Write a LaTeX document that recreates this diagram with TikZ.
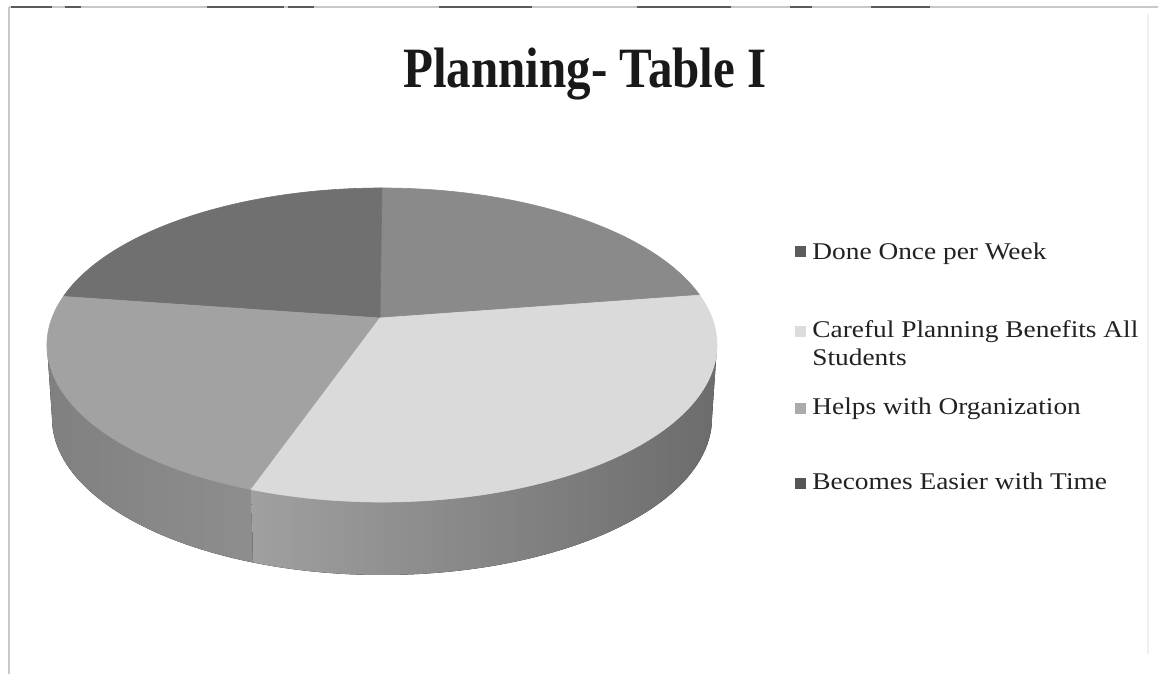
\documentclass[tikz,border=0pt]{standalone}
\usepackage{fontspec}
\setmainfont{Liberation Serif}
\newfontfamily\legfont[FakeStretch=1.14]{Liberation Serif}
\newfontfamily\titfont[FakeStretch=0.86]{Liberation Serif}
\usetikzlibrary{calc}
\definecolor{cBecomes}{HTML}{707070}
\definecolor{cDone}{HTML}{8A8A8A}
\definecolor{cHelps}{HTML}{A2A2A2}
\definecolor{cCareful}{HTML}{DADADA}
\definecolor{sHelpsL}{HTML}{808080}
\definecolor{sHelpsR}{HTML}{8E8E8E}
\definecolor{sCarL}{HTML}{A0A0A0}
\definecolor{sCarR}{HTML}{6C6C6C}
\definecolor{mDone}{HTML}{5C5C5C}
\definecolor{mCareful}{HTML}{DCDCDC}
\definecolor{mHelps}{HTML}{ABABAB}
\definecolor{mBecomes}{HTML}{555555}
\definecolor{txt}{HTML}{222222}
\definecolor{frameL}{HTML}{C8C8C8}
\definecolor{frameD}{HTML}{5A5A5A}
\tikzset{
  legmark/.style={rectangle, minimum size=5.5pt, inner sep=0pt, draw=none},
  legtext/.style={anchor=base west, inner sep=0pt, text=txt, align=left,
    font=\legfont\fontsize{12}{14}\selectfont},
  titletext/.style={anchor=base, inner sep=0pt, text=black!90,
    font=\titfont\bfseries\fontsize{28.5}{30}\selectfont},
  frameline/.style={draw=frameL, line width=0.8pt},
  framedark/.style={draw=frameD, line width=0.9pt},
  topface/.style={x radius=167.5pt, y radius=78.5pt},
  botface/.style={x radius=165pt, y radius=78.5pt},
}
\begin{document}
\begin{tikzpicture}[x=0.5pt, y=0.5pt]
\useasboundingbox (0,0) rectangle (1158,674);
\fill[white] (0,0) rectangle (1158,674);
% frame
\draw[frameline] (9,667) -- (1158,667);
\draw[frameline] (9,667) -- (9,0);
\draw[draw=black!6, line width=0.6pt] (1148,660) -- (1148,20);
\foreach \a/\b in {11/52, 65/81, 207/284, 288/314, 439/532, 637/731, 790/812, 871/930}
  \draw[framedark] (\a,667) -- (\b,667);
% pie geometry
\coordinate (O) at (380,356);
\coordinate (T) at (382,329);
\coordinate (B) at (382,256);
% sides
\fill[left color=sHelpsL, right color=sHelpsR]
  ($(T)+(180:167.5pt and 78.5pt)$) arc[topface, start angle=180, end angle=247.5]
  -- ($(B)+(247.5:165pt and 78.5pt)$) arc[botface, start angle=247.5, end angle=180] -- cycle;
\fill[left color=sCarL, right color=sCarR]
  ($(T)+(247:167.5pt and 78.5pt)$) arc[topface, start angle=247, end angle=360]
  -- ($(B)+(360:165pt and 78.5pt)$) arc[botface, start angle=360, end angle=247] -- cycle;
% top faces
\filldraw[fill=cDone, draw=cDone, line width=0.3pt] (O) -- ($(T)+(18.5:167.5pt and 78.5pt)$)
  arc[topface, start angle=18.5, end angle=90] -- cycle;
\filldraw[fill=cBecomes, draw=cBecomes, line width=0.3pt] (O) -- ($(T)+(90:167.5pt and 78.5pt)$)
  arc[topface, start angle=90, end angle=162] -- cycle;
\filldraw[fill=cHelps, draw=cHelps, line width=0.3pt] (O) -- ($(T)+(162:167.5pt and 78.5pt)$)
  arc[topface, start angle=162, end angle=247] -- cycle;
\filldraw[fill=cCareful, draw=cCareful, line width=0.3pt] (O) -- ($(T)+(247:167.5pt and 78.5pt)$)
  arc[topface, start angle=247, end angle=378.5] -- cycle;
% title
\node[titletext] (title) at (585,586) {Planning- Table I};
% legend
\node[legmark, fill=mDone] (m1) at (800,422) {};
\node[legtext] (l1) at (812,414) {Done Once per Week};
\node[legmark, fill=mCareful] (m2) at (800,342) {};
\node[legtext] (l2) at (812,308) {Careful Planning Benefits All\\Students};
\node[legmark, fill=mHelps] (m3) at (800,265) {};
\node[legtext] (l3) at (812,259) {Helps with Organization};
\node[legmark, fill=mBecomes] (m4) at (800,190) {};
\node[legtext] (l4) at (812,184) {Becomes Easier with Time};
\end{tikzpicture}
\end{document}
